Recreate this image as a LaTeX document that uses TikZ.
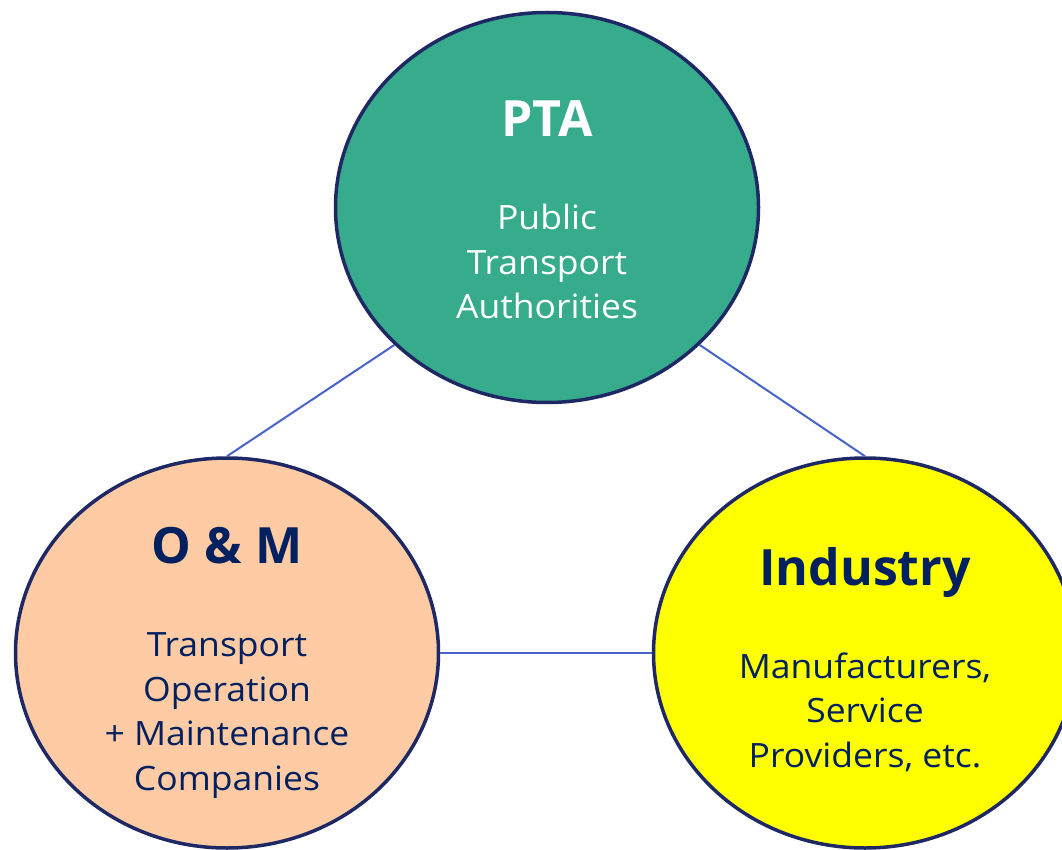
\documentclass[tikz,border=0pt]{standalone}
\usepackage{fontspec}
\setmainfont{Open Sans}
\newfontfamily\bodyfont[FakeStretch=1.06]{Open Sans}
\usetikzlibrary{shapes.geometric}
\definecolor{ptafill}{RGB}{54,172,140}
\definecolor{omfill}{RGB}{255,203,164}
\definecolor{indfill}{RGB}{255,255,0}
\definecolor{rim}{RGB}{30,40,100}
\definecolor{link}{RGB}{72,100,200}
\definecolor{navy}{RGB}{0,32,96}
\tikzset{
  bubble/.style={ellipse, draw=rim, line width=3.5pt, minimum width=423pt, minimum height=390pt, inner sep=0pt},
  title/.style={anchor=base, inner sep=0pt, font=\fontsize{50}{60}\selectfont\bfseries},
  body/.style={anchor=base, inner sep=0pt, align=center, font=\bodyfont\fontsize{33.5}{44.5}\selectfont},
  linkline/.style={draw=link, line width=2pt}
}
\begin{document}
\begin{tikzpicture}[x=1pt,y=-1pt]
\useasboundingbox (0,0) rectangle (1062,850);
\node[bubble, fill=ptafill] (pta) at (547,207.5) {};
\node[bubble, fill=omfill] (om) at (227,653) {};
\node[bubble, fill=indfill] (ind) at (865,653) {};
\draw[linkline] (pta.222.9) -- (om.90);
\draw[linkline] (pta.-42.9) -- (ind.90);
\draw[linkline] (om.0) -- (ind.180);
\node[title, text=white] (ptat) at (547,137) {PTA};
\node[body, text=white] (ptab) at (547,319) {Public\\Transport\\Authorities};
\node[title, text=navy] (omt) at (227,563) {O \& M};
\node[body, text=navy] (omb) at (227,790) {Transport\\Operation\\+ Maintenance\\Companies};
\node[title, text=navy] (indt) at (865,585) {Industry};
\node[body, text=navy] (indb) at (865,767) {Manufacturers,\\Service\\Providers, etc.};
\end{tikzpicture}
\end{document}
